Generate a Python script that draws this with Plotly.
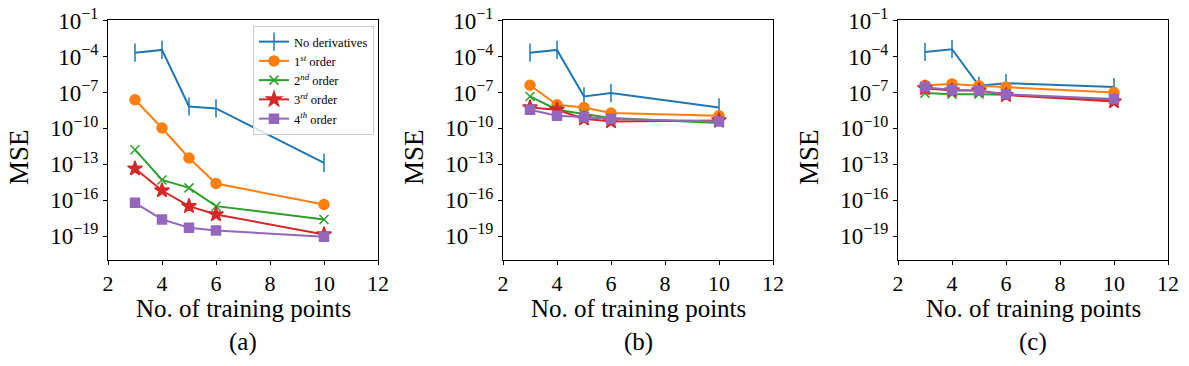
import plotly.graph_objects as go

# number of training points
n_points = [3, 4, 5, 6, 10]

# log10(MSE), one list per series and panel
a_none = [-3.67, -3.44, -8.17, -8.33, -12.88]
a_1st = [-7.61, -9.97, -12.47, -14.61, -16.36]
a_2nd = [-11.78, -14.31, -14.97, -16.5, -17.61]
a_3rd = [-13.36, -15.19, -16.5, -17.19, -18.86]
a_4th = [-16.22, -17.61, -18.31, -18.53, -19.05]

b_none = [-3.67, -3.44, -7.33, -7.05, -8.25]
b_1st = [-6.39, -8.03, -8.25, -8.72, -8.94]
b_2nd = [-7.33, -8.44, -8.8, -9.13, -9.55]
b_3rd = [-8.25, -8.44, -9.19, -9.42, -9.33]
b_4th = [-8.44, -8.94, -9.05, -9.22, -9.42]

c_none = [-3.61, -3.38, -6.44, -6.22, -6.55]
c_1st = [-6.39, -6.28, -6.44, -6.55, -7.0]
c_2nd = [-7.05, -7.14, -7.14, -7.19, -7.61]
c_3rd = [-6.64, -6.83, -6.83, -7.22, -7.75]
c_4th = [-6.55, -6.78, -6.83, -7.14, -7.55]

labels = ["No derivatives", "1<sup><i>st</i></sup> order", "2<sup><i>nd</i></sup> order",
          "3<sup><i>rd</i></sup> order", "4<sup><i>th</i></sup> order"]
colors = ["#1f77b4", "#ff7f0e", "#2ca02c", "#d62728", "#9467bd"]
symbols = ["line-ns-open", "circle", "x-thin-open", "star", "square"]
sizes = [13, 10, 9, 11, 9]

ytick_exp = [-1, -4, -7, -10, -13, -16, -19]
panel_names = ["(a)", "(b)", "(c)"]

panels = [
    [a_none, a_1st, a_2nd, a_3rd, a_4th],
    [b_none, b_1st, b_2nd, b_3rd, b_4th],
    [c_none, c_1st, c_2nd, c_3rd, c_4th],
]

FONT = "Liberation Serif"
W, H = 1189, 366
x_left = [108, 503, 898]
ax_w = 270
y_top, y_bot = 20, 260

fig = go.Figure()

for p, series in enumerate(panels):
    sfx = "" if p == 0 else str(p + 1)
    for i, logs in enumerate(series):
        fig.add_trace(go.Scatter(
            x=n_points,
            y=[10 ** v for v in logs],
            mode="lines+markers",
            name=labels[i],
            showlegend=(p == 0),
            line=dict(color=colors[i], width=2),
            marker=dict(symbol=symbols[i], size=sizes[i], color=colors[i],
                        line=dict(color=colors[i], width=1.5)),
            xaxis="x" + sfx,
            yaxis="y" + sfx,
        ))

    dom_x = [x_left[p] / W, (x_left[p] + ax_w) / W]
    axis_common = dict(showline=True, linecolor="black", linewidth=1, mirror=True,
                       ticks="outside", ticklen=4, tickcolor="black", showgrid=False,
                       zeroline=False, automargin=False)
    fig.update_layout(**{
        "xaxis" + sfx: dict(domain=dom_x, range=[2, 12], tickvals=[2, 4, 6, 8, 10, 12],
                            anchor="y" + sfx,
                            tickfont=dict(family=FONT, size=22, color="black"),
                            **axis_common),
        "yaxis" + sfx: dict(domain=[1 - y_bot / H, 1 - y_top / H], type="log",
                            range=[-21, -0.94], tickvals=[10 ** e for e in ytick_exp],
                            ticktext=["10<sup>\u2212%d</sup>" % -e for e in ytick_exp],
                            anchor="x" + sfx,
                            tickfont=dict(family=FONT, size=23, color="black"),
                            **axis_common),
    })

    xc = (x_left[p] + ax_w / 2) / W
    fig.add_annotation(x=xc, y=1 - 308 / H, xref="paper", yref="paper",
                       xanchor="center", yanchor="middle",
                       text="No. of training points", showarrow=False,
                       font=dict(family=FONT, size=25, color="black"))
    fig.add_annotation(x=xc, y=1 - 342 / H, xref="paper", yref="paper",
                       xanchor="center", yanchor="middle",
                       text=panel_names[p], showarrow=False,
                       font=dict(family=FONT, size=25, color="black"))
    fig.add_annotation(x=(x_left[p] - 89) / W, y=1 - 157 / H, xref="paper", yref="paper",
                       xanchor="center", yanchor="middle",
                       text="MSE", showarrow=False, textangle=-90,
                       font=dict(family=FONT, size=27, color="black"))

fig.update_layout(
    width=W, height=H,
    margin=dict(l=0, r=0, t=0, b=0, autoexpand=False),
    paper_bgcolor="white", plot_bgcolor="white",
    font=dict(family=FONT, color="black"),
    legend=dict(x=253 / W, y=1 - 26 / H, xanchor="left", yanchor="top",
                bgcolor="rgba(255,255,255,0.8)", bordercolor="#cccccc", borderwidth=1,
                font=dict(family=FONT, size=12.5, color="black"), tracegroupgap=0,
                itemwidth=30),
)

fig.write_html("out.html", config={"displayModeBar": False},
               post_script="document.body.style.margin='0';")
